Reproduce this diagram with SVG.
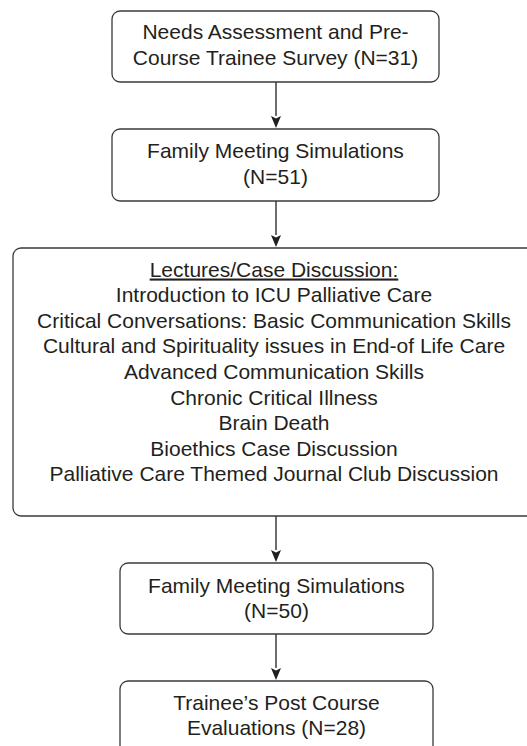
<svg xmlns="http://www.w3.org/2000/svg" width="527" height="746" viewBox="0 0 527 746">
  <style>
    .box { fill: #ffffff; stroke: #3a3a3a; stroke-width: 1.3; }
    .lbl { font-family: "Liberation Sans", Arial, Helvetica, sans-serif; font-size: 21px; fill: #231f20; text-anchor: middle; }
    .edge { stroke: #231f20; stroke-width: 1.3; fill: none; }
  </style>
  <defs>
    <marker id="arrow" viewBox="0 0 10 12" refX="5" refY="12" markerWidth="10" markerHeight="12" markerUnits="userSpaceOnUse" orient="auto-start-reverse">
      <path d="M0,0 L5,2.5 L10,0 L5,12 Z" fill="#231f20" transform="rotate(0)"/>
    </marker>
  </defs>
  <rect width="527" height="746" fill="#ffffff"/>

  <g id="connectors">
    <line class="edge" x1="276" y1="82" x2="276" y2="116"/>
    <path d="M271,116 L276,118.5 L281,116 L276,128 Z" fill="#231f20"/>
    <line class="edge" x1="276" y1="201" x2="276" y2="235"/>
    <path d="M271,235 L276,237.5 L281,235 L276,247 Z" fill="#231f20"/>
    <line class="edge" x1="276" y1="516" x2="276" y2="550"/>
    <path d="M271,550 L276,552.5 L281,550 L276,562 Z" fill="#231f20"/>
    <line class="edge" x1="276" y1="634" x2="276" y2="668"/>
    <path d="M271,668 L276,670.5 L281,668 L276,680 Z" fill="#231f20"/>
  </g>

  <g id="needs-assessment">
    <rect class="box" x="112" y="11" width="327" height="71" rx="8"/>
    <text class="lbl" x="275.5" y="39">Needs Assessment and Pre-</text>
    <text class="lbl" x="275.5" y="65">Course Trainee Survey (N=31)</text>
  </g>

  <g id="family-meeting-1">
    <rect class="box" x="112" y="129" width="327" height="72" rx="8"/>
    <text class="lbl" x="275.5" y="158">Family Meeting Simulations</text>
    <text class="lbl" x="275.5" y="184">(N=51)</text>
  </g>

  <g id="lectures">
    <rect class="box" x="13" y="248" width="530" height="268" rx="8"/>
    <text class="lbl" x="274" y="276.5" text-decoration="underline">Lectures/Case Discussion:</text>
    <text class="lbl" x="274" y="302">Introduction to ICU Palliative Care</text>
    <text class="lbl" x="274" y="327.7">Critical Conversations: Basic Communication Skills</text>
    <text class="lbl" x="274" y="353.3">Cultural and Spirituality issues in End-of Life Care</text>
    <text class="lbl" x="274" y="378.9">Advanced Communication Skills</text>
    <text class="lbl" x="274" y="404.5">Chronic Critical Illness</text>
    <text class="lbl" x="274" y="430.1">Brain Death</text>
    <text class="lbl" x="274" y="455.7">Bioethics Case Discussion</text>
    <text class="lbl" x="274" y="481.3">Palliative Care Themed Journal Club Discussion</text>
  </g>

  <g id="family-meeting-2">
    <rect class="box" x="120" y="563" width="313" height="71" rx="8"/>
    <text class="lbl" x="276.5" y="593">Family Meeting Simulations</text>
    <text class="lbl" x="276.5" y="618">(N=50)</text>
  </g>

  <g id="post-course">
    <rect class="box" x="120" y="681" width="313" height="80" rx="8"/>
    <text class="lbl" x="276.5" y="710">Trainee’s Post Course</text>
    <text class="lbl" x="276.5" y="735">Evaluations (N=28)</text>
  </g>
</svg>
